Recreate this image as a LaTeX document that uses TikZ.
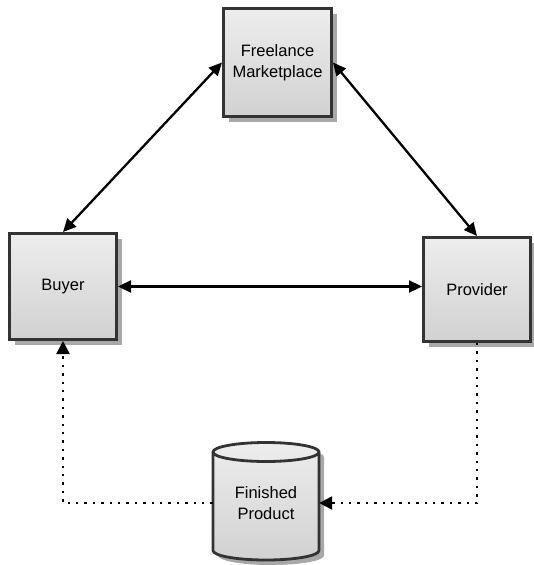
\documentclass[tikz,border=0pt]{standalone}
\usepackage{fontspec}
\setmainfont{Liberation Sans}
\usetikzlibrary{arrows.meta,shadows}
\definecolor{edgegray}{HTML}{333333}
\definecolor{shadowgray}{HTML}{A8A8A8}
\begin{document}
\begin{tikzpicture}[x=1pt,y=1pt,
  box/.style={draw=edgegray, line width=3pt, top color=white!93!black,
    bottom color=white!82!black, inner sep=0pt, align=center,
    font=\fontsize{16.5}{21}\selectfont,
    drop shadow={shadow xshift=5pt, shadow yshift=-5pt, fill=shadowgray, opacity=1}},
  link/.style={line width=2.3pt, {Triangle[length=13pt,width=12pt]}-{Triangle[length=13pt,width=12pt]}},
  dotlink/.style={line width=2.4pt, dash pattern=on 2.4pt off 6pt, -{Triangle[length=13pt,width=13pt]}}]
\useasboundingbox (0,0) rectangle (534,-565);

% boxes
\node[box, minimum width=108pt, minimum height=108pt] (fm) at (277.5,-62.5) {Freelance\\Marketplace};
\node[box, minimum width=107pt, minimum height=106pt] (buyer) at (63,-286.5) {Buyer};
\node[box, minimum width=107pt, minimum height=104pt] (prov) at (477,-289.5) {Provider};

% cylinder store
\def\cx{266}\def\rx{53}\def\ry{9.5}\def\ytop{-452}\def\ybot{-550.5}
\fill[shadowgray] (\cx+\rx+5,\ytop-5) -- (\cx+\rx+5,\ybot-5) arc[start angle=0,end angle=-180,x radius=\rx,y radius=\ry] -- (\cx-\rx+5,\ytop-5) arc[start angle=180,end angle=0,x radius=\rx,y radius=\ry] -- cycle;
\path[top color=white!93!black, bottom color=white!82!black]
  (\cx+\rx,\ytop) -- (\cx+\rx,\ybot) arc[start angle=0,end angle=-180,x radius=\rx,y radius=\ry]
  -- (\cx-\rx,\ytop) arc[start angle=180,end angle=0,x radius=\rx,y radius=\ry] -- cycle;
\draw[edgegray, line width=2.8pt]
  (\cx+\rx,\ytop) -- (\cx+\rx,\ybot) arc[start angle=0,end angle=-180,x radius=\rx,y radius=\ry]
  -- (\cx-\rx,\ytop)
  (\cx,\ytop) ellipse[x radius=\rx,y radius=\ry];
\node[inner sep=0pt, minimum width=106pt, minimum height=20pt, align=center,
  font=\fontsize{16.5}{21}\selectfont] (prod) at (\cx,-503) {Finished\\Product};

% connectors
\draw[link] (fm.west) -- (buyer.north);
\draw[link] (fm.east) -- (prov.north);
\draw[link] (buyer.east) -- (buyer.east -| prov.west);
\draw[dotlink] (prov.south) |- (prod.east);
\draw[dotlink] (prod.west) -| (buyer.south);
\end{tikzpicture}
\end{document}
